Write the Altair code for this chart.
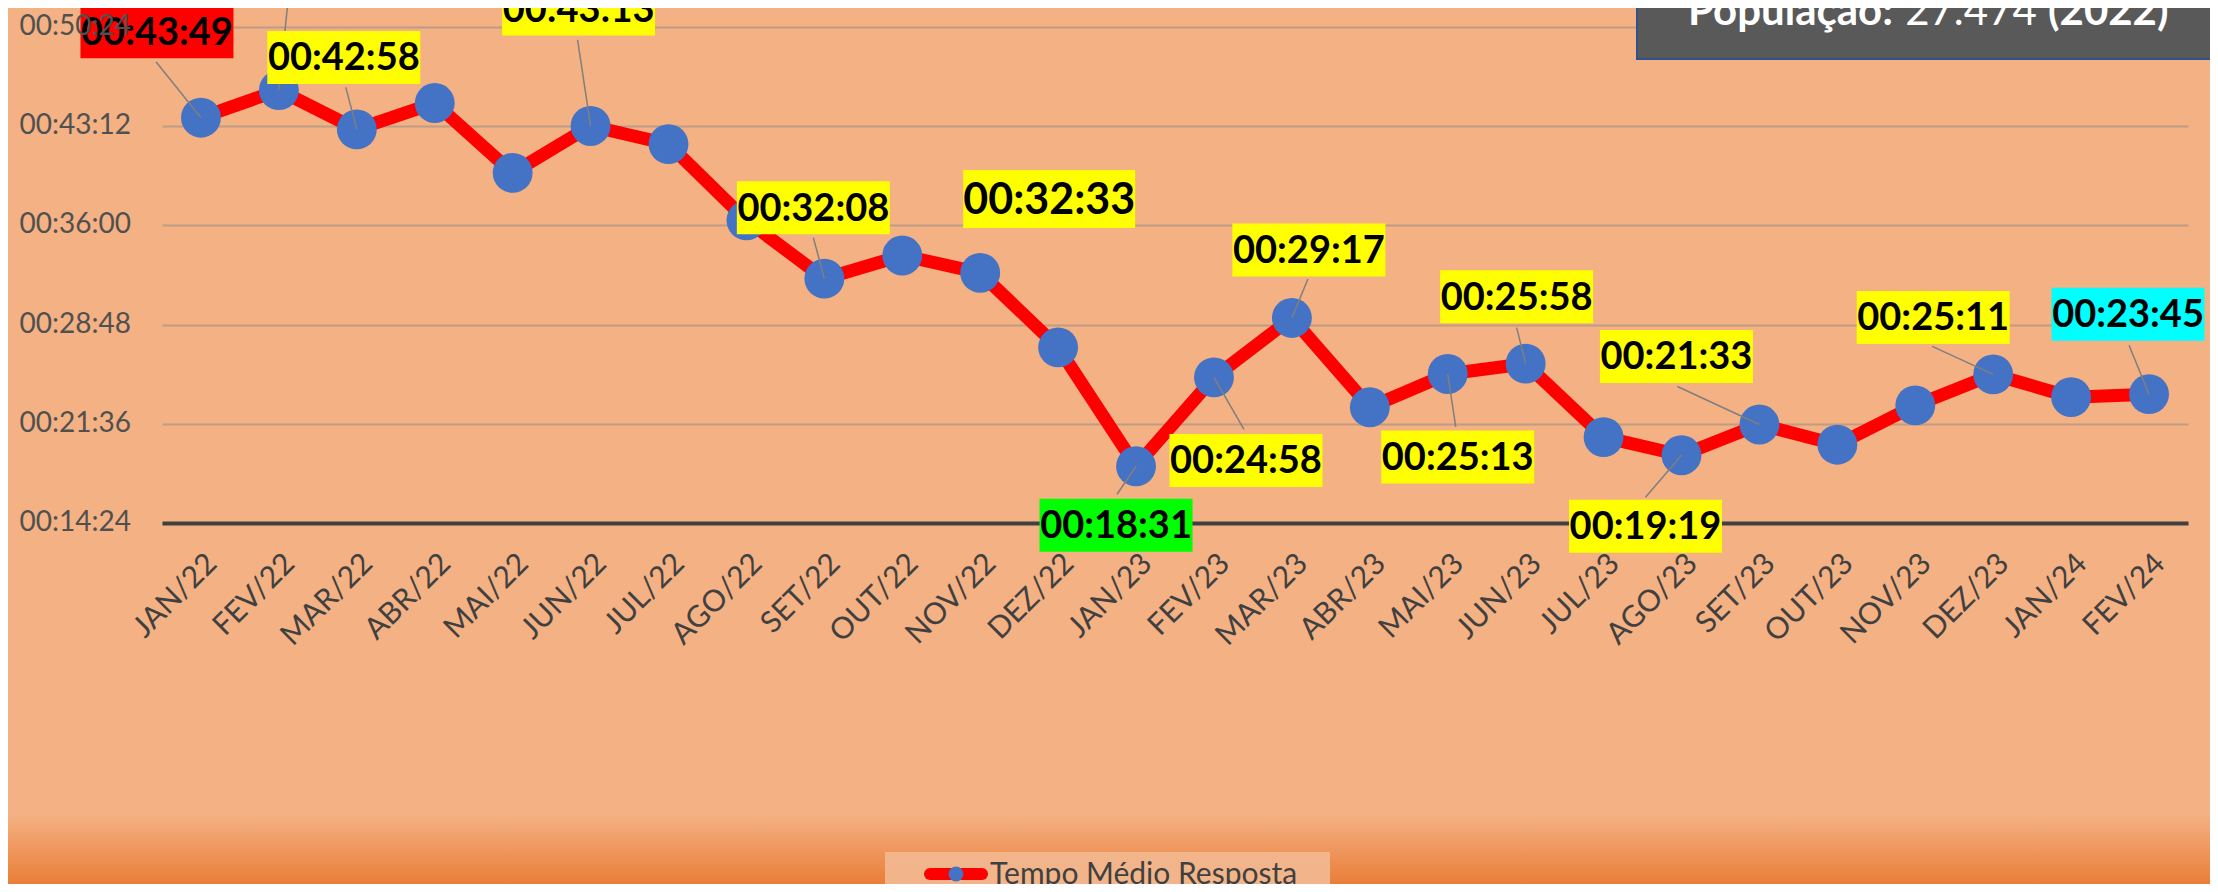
import json
import altair as alt
import pandas as pd

# ---------------- data ----------------
MONTHS = ["JAN/22", "FEV/22", "MAR/22", "ABR/22", "MAI/22", "JUN/22", "JUL/22",
          "AGO/22", "SET/22", "OUT/22", "NOV/22", "DEZ/22", "JAN/23", "FEV/23",
          "MAR/23", "ABR/23", "MAI/23", "JUN/23", "JUL/23", "AGO/23", "SET/23",
          "OUT/23", "NOV/23", "DEZ/23", "JAN/24", "FEV/24"]
TIMES = ["00:43:49", "00:45:49", "00:42:58", "00:44:53", "00:39:49", "00:43:13",
         "00:41:54", "00:36:22", "00:32:08", "00:33:49", "00:32:33", "00:27:09",
         "00:18:31", "00:24:58", "00:29:17", "00:22:48", "00:25:13", "00:25:58",
         "00:20:38", "00:19:19", "00:21:33", "00:20:05", "00:22:56", "00:25:11",
         "00:23:32", "00:23:45"]
Y_TICKS = ["00:14:24", "00:21:36", "00:28:48", "00:36:00", "00:43:12", "00:50:24"]
SERIES = "Tempo Médio Resposta"
POP_LABEL = "População:"
POP_VALUE = "27.474"
POP_YEAR = "(2022)"

# label styling: month, background, label offset (dx, dy), leader start (lx, ly), big
LABEL_STYLE = [
    ("JAN/22", "#FF0000", -44, -86, -45, -56, False),
    ("FEV/22", "#FF0000", 9, -114, 9, -88, False),
    ("MAR/22", "#FFFF00", -13, -72, -11, -42, False),
    ("JUN/22", "#FFFF00", -12, -117, -13, -86, False),
    ("SET/22", "#FFFF00", -11, -71, -11, -41, False),
    ("NOV/22", "#FFFF00", 69, -74, None, None, True),
    ("JAN/23", "#00FF00", -20, 59, -19, 28, False),
    ("FEV/23", "#FFFF00", 32, 83, 30, 52, False),
    ("MAR/23", "#FFFF00", 17, -68, 16, -39, False),
    ("MAI/23", "#FFFF00", 10, 83, 8, 53, False),
    ("JUN/23", "#FFFF00", -9, -67, -9, -36, False),
    ("AGO/23", "#FFFF00", -36, 71, -36, 42, False),
    ("SET/23", "#FFFF00", -83, -68, -82, -38, False),
    ("DEZ/23", "#FFFF00", -60, -57, -61, -28, False),
    ("FEV/24", "#00FFFF", -21, -80, -20, -49, False),
]


def to_sec(t):
    h, m, s = (int(v) for v in t.split(":"))
    return h * 3600 + m * 60 + s


df = pd.DataFrame({
    "month": MONTHS,
    "idx": list(range(len(MONTHS))),
    "sec": [to_sec(t) for t in TIMES],
    "label": TIMES,
})
y_ticks = [to_sec(t) for t in Y_TICKS]
ydf = pd.DataFrame({"tick": Y_TICKS, "sec": y_ticks})
one = pd.DataFrame({"k": [0]})

W, H = 2026, 496
FONT = "Lato"

x_enc = alt.X("idx:Q",
              scale=alt.Scale(domain=[-0.5, len(MONTHS) - 0.5], nice=False, zero=False),
              axis=alt.Axis(values=list(range(len(MONTHS))),
                            labelExpr=json.dumps(MONTHS) + "[datum.value]",
                            title=None, grid=False, ticks=False,
                            labelAngle=-45, labelAlign="right", labelBaseline="top",
                            labelPadding=25, labelOverlap=False, labelBound=False,
                            labelFont=FONT, labelFontSize=30, labelColor="#404040",
                            domainColor="#404040", domainWidth=4))
y_enc = alt.Y("sec:Q",
              scale=alt.Scale(domain=[y_ticks[0], y_ticks[-1]], nice=False, zero=False),
              axis=alt.Axis(values=y_ticks, labels=False,
                            title=None, grid=True, gridColor="#BE9C86", gridWidth=2,
                            ticks=False, domain=False))

base = alt.Chart(df)

# background gradient at bottom
grad = alt.Chart(one).mark_rect(
    fill=alt.LinearGradient(gradient="linear",
                            stops=[alt.GradientStop(color="#F4B183", offset=0),
                                   alt.GradientStop(color="#E8772E", offset=1)],
                            x1=0, x2=0, y1=0, y2=1)
).encode(x=alt.value(-154), x2=alt.value(W + 22), y=alt.value(788), y2=alt.value(866))

line = base.mark_line(color="#FF0000", strokeWidth=13, strokeJoin="round").encode(x=x_enc, y=y_enc)
points = base.mark_circle(size=1590, color="#4472C4", opacity=1).encode(x=x_enc, y=y_enc)

layers = [grad, line, points]

for m, bg, dx, dy, lx, ly, big in LABEL_STYLE:
    if lx is not None:
        layers.append(
            base.transform_filter(alt.datum.month == m)
            .mark_rule(color="#7F7F7F", strokeWidth=1.5,
                       xOffset=lx, yOffset=ly, x2Offset=0, y2Offset=0)
            .encode(x=x_enc, y=y_enc, x2="idx:Q", y2="sec:Q")
        )
for m, bg, dx, dy, lx, ly, big in LABEL_STYLE:
    w, h = (172, 58) if big else (153, 53)
    layers.append(
        base.transform_filter(alt.datum.month == m)
        .mark_rect(color=bg, opacity=1,
                   xOffset=dx - w / 2, x2Offset=dx + w / 2,
                   yOffset=dy - h / 2, y2Offset=dy + h / 2)
        .encode(x=x_enc, y=y_enc, x2="idx:Q", y2="sec:Q")
    )
    layers.append(
        base.transform_filter(alt.datum.month == m)
        .mark_text(font=FONT, fontWeight="bold", fontSize=43 if big else 38,
                   color="#000000", align="center", baseline="middle", dx=dx, dy=dy + 2)
        .encode(x=x_enc, y=y_enc, text="label:N")
    )

# y tick labels (drawn above the data labels, as in the original)
ylab = alt.Chart(ydf).mark_text(font=FONT, fontSize=28, color="#505050",
                                align="right", baseline="middle").encode(
    x=alt.value(-31), y=y_enc, text="tick:N")

# population box
pop_box = alt.Chart(one).mark_rect(fill="#595959", stroke="#2F528F", strokeWidth=2).encode(
    x=alt.value(1475), x2=alt.value(2060), y=alt.value(-40), y2=alt.value(32))
pop_t1 = alt.Chart(one).mark_text(text=POP_LABEL, font=FONT, fontWeight="bold", fontSize=42,
                                  color="white", align="right", baseline="alphabetic").encode(
    x=alt.value(1731), y=alt.value(-2))
pop_t2 = alt.Chart(one).mark_text(text=POP_VALUE, font=FONT, fontSize=42,
                                  color="white", align="center", baseline="alphabetic").encode(
    x=alt.value(1809), y=alt.value(-2))
pop_t3 = alt.Chart(one).mark_text(text=POP_YEAR, font=FONT, fontWeight="bold", fontSize=42,
                                  color="white", align="left", baseline="alphabetic").encode(
    x=alt.value(1886), y=alt.value(-2))

# legend
leg_box = alt.Chart(one).mark_rect(fill="#F2B78E", opacity=0.95).encode(
    x=alt.value(723), x2=alt.value(1168), y=alt.value(825), y2=alt.value(880))
leg_line = alt.Chart(one).mark_rule(color="#FF0000", strokeWidth=12, strokeCap="round").encode(
    x=alt.value(768), x2=alt.value(820), y=alt.value(847))
leg_pt = alt.Chart(one).mark_circle(size=220, color="#4472C4", opacity=1).encode(
    x=alt.value(794), y=alt.value(847))
leg_txt = alt.Chart(one).mark_text(text=SERIES, font=FONT, fontSize=30, color="#404040",
                                   align="left", baseline="alphabetic").encode(
    x=alt.value(828), y=alt.value(857))

layers += [ylab, pop_box, pop_t1, pop_t2, pop_t3, leg_box, leg_line, leg_pt, leg_txt]

chart = alt.layer(*layers).properties(
    width=W, height=H,
    padding={"left": 154, "top": 19, "right": 22, "bottom": 361},
    autosize=alt.AutoSizeParams(type="none"),
    background="#F4B183",
).configure_view(stroke=None)

chart.save("out.html", embed_options={"renderer": "svg", "actions": False})
